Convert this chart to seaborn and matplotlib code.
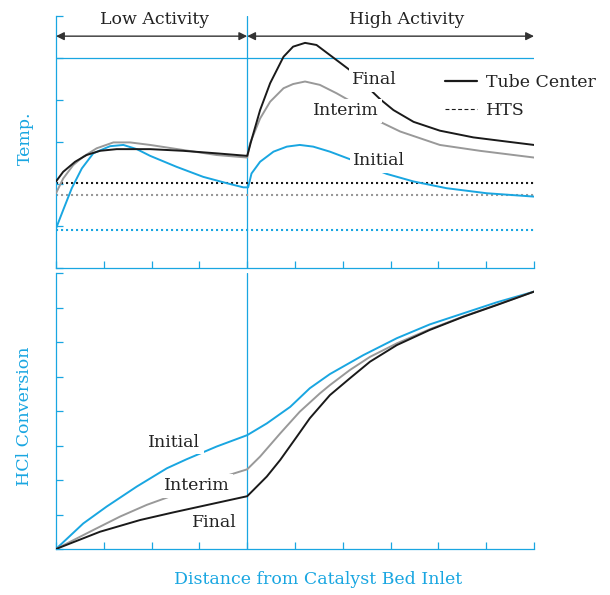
import numpy as np
import pandas as pd
import matplotlib
matplotlib.use("Agg")
import matplotlib.pyplot as plt
from matplotlib.lines import Line2D
import seaborn as sns

# ---------------- data ----------------
# Top panel: temperature (arbitrary units), x = distance (0..10)
temp_final_x = [0, 0.15, 0.4, 0.64, 0.92, 1.27, 1.97, 2.66, 3.36, 4.0,
                4.09, 4.27, 4.48, 4.76, 4.96, 5.21, 5.45, 5.73, 6.15,
                6.78, 7.06, 7.48, 8.03, 8.73, 9.43, 10]
temp_final_y = [2.06, 2.29, 2.53, 2.69, 2.79, 2.83, 2.83, 2.79, 2.73, 2.67,
                3.05, 3.76, 4.40, 5.03, 5.27, 5.36, 5.31, 5.07, 4.71,
                4.02, 3.76, 3.48, 3.27, 3.11, 3.01, 2.93]

temp_interim_x = [0, 0.15, 0.36, 0.57, 0.85, 1.2, 1.55, 1.97, 2.66, 3.36, 4.0,
                  4.06, 4.27, 4.48, 4.76, 4.96, 5.21, 5.52, 5.87, 6.15,
                  6.78, 7.2, 8.03, 8.87, 10]
temp_interim_y = [1.78, 2.13, 2.45, 2.65, 2.85, 2.99, 2.99, 2.93, 2.81, 2.69, 2.63,
                  2.97, 3.56, 3.96, 4.28, 4.38, 4.44, 4.36, 4.16, 3.98,
                  3.48, 3.25, 2.93, 2.79, 2.63]

temp_initial_x = [0, 0.15, 0.33, 0.54, 0.78, 1.13, 1.41, 1.69, 1.97, 2.52, 3.08, 3.57, 3.92, 4.02,
                  4.09, 4.27, 4.55, 4.83, 5.1, 5.38, 5.73, 6.15,
                  6.92, 7.48, 8.17, 9.01, 10]
temp_initial_y = [0.94, 1.38, 1.9, 2.37, 2.73, 2.9, 2.93, 2.83, 2.67, 2.41, 2.17, 2.02, 1.92, 1.92,
                  2.25, 2.53, 2.77, 2.89, 2.93, 2.89, 2.77, 2.59,
                  2.24, 2.06, 1.90, 1.78, 1.70]

# HTS levels (dotted)
hts_final = 2.03
hts_interim = 1.75
hts_initial = 0.9
temp_ref_level = 5.0

# Bottom panel: HCl conversion
conv_initial_x = [0, 0.57, 1.06, 1.69, 2.32, 2.73, 3.36, 4.0, 4.41, 4.9, 5.31, 5.73,
                  6.43, 7.13, 7.82, 8.52, 9.22, 10]
conv_initial_y = [0, 0.74, 1.23, 1.81, 2.34, 2.6, 2.97, 3.3, 3.64, 4.12, 4.66, 5.07,
                  5.62, 6.11, 6.51, 6.83, 7.15, 7.46]

conv_interim_x = [0, 0.78, 1.34, 1.9, 2.32, 3.4, 4.0, 4.27, 4.69, 5.1, 5.52, 5.73,
                  6.15, 6.57, 7.13, 7.82, 8.52, 9.22, 10]
conv_interim_y = [0, 0.55, 0.94, 1.28, 1.49, 2.05, 2.31, 2.68, 3.35, 3.98, 4.51, 4.75,
                  5.19, 5.57, 5.96, 6.37, 6.74, 7.08, 7.46]

conv_final_x = [0, 0.92, 1.76, 2.45, 3.01, 4.0, 4.13, 4.41, 4.69, 5.04, 5.31, 5.73,
                6.15, 6.57, 7.13, 7.82, 8.52, 9.22, 10]
conv_final_y = [0, 0.5, 0.84, 1.06, 1.23, 1.53, 1.71, 2.1, 2.58, 3.26, 3.79, 4.46,
                4.95, 5.43, 5.91, 6.35, 6.73, 7.07, 7.46]

zone_boundary = 4.0
x_max = 10

# ---------------- style ----------------
sns.set_theme(style="white")
plt.rcParams["font.family"] = ["DejaVu Serif"]

CYAN = "#19a6e1"
GRAY = "#999999"
BLACK = "#1a1a1a"
TXT = "#222222"
FS = 12.5

fig = plt.figure(figsize=(6.1, 5.95), dpi=100)
W, H = 610, 595
L, R = 56, 534
ax1 = fig.add_axes([L / W, 1 - 268 / H, (R - L) / W, (268 - 16) / H])
ax2 = fig.add_axes([L / W, 1 - 549 / H, (R - L) / W, (549 - 273) / H])

LW = 1.4


def line(ax, x, y, color, **kw):
    df = pd.DataFrame({"x": x, "y": y})
    sns.lineplot(data=df, x="x", y="y", ax=ax, color=color, lw=LW,
                 estimator=None, sort=False, legend=False, zorder=3, **kw)


# top panel
ax1.axhline(temp_ref_level, color=CYAN, lw=0.9, zorder=1)
ax1.axhline(hts_final, color=BLACK, lw=1.5, ls=(0, (1, 1.4)), zorder=2)
ax1.axhline(hts_interim, color=GRAY, lw=1.5, ls=(0, (1, 1.4)), zorder=2)
ax1.axhline(hts_initial, color=CYAN, lw=1.5, ls=(0, (1, 1.4)), zorder=2)
line(ax1, temp_initial_x, temp_initial_y, CYAN)
line(ax1, temp_interim_x, temp_interim_y, GRAY)
line(ax1, temp_final_x, temp_final_y, BLACK)

# bottom panel
line(ax2, conv_initial_x, conv_initial_y, CYAN)
line(ax2, conv_interim_x, conv_interim_y, GRAY)
line(ax2, conv_final_x, conv_final_y, BLACK)


def style_axes(ax, ymax):
    ax.set_xlim(0, x_max)
    ax.set_ylim(0, ymax)
    ax.set_xticks(range(0, x_max + 1))
    ax.set_yticks(range(0, ymax + 1))
    ax.tick_params(direction="in", length=5, width=0.9, color=CYAN,
                   labelbottom=False, labelleft=False, bottom=True, left=True)
    for s in ["top", "right"]:
        ax.spines[s].set_visible(False)
    for s in ["left", "bottom"]:
        ax.spines[s].set_color(CYAN)
        ax.spines[s].set_linewidth(0.9)
    ax.axvline(zone_boundary, color=CYAN, lw=0.9, zorder=1)
    ax.set_xlabel("")
    ax.set_ylabel("")


style_axes(ax1, 6)
style_axes(ax2, 8)

box = dict(facecolor="white", edgecolor="none", pad=2.5)
for ax, (tx, ty, t) in [(ax1, (6.67, 4.48, "Final")), (ax1, (6.07, 3.74, "Interim")),
                        (ax1, (6.76, 2.55, "Initial")),
                        (ax2, (2.47, 3.1, "Initial")), (ax2, (2.95, 1.83, "Interim")),
                        (ax2, (3.32, 0.78, "Final"))]:
    ax.text(tx, ty, t, ha="center", va="center", fontsize=FS, color=TXT,
            bbox=box, zorder=5)

# zone arrows and titles
for x0, x1, lab, lx in [(0, zone_boundary, "Low Activity", 2.07),
                        (zone_boundary, x_max, "High Activity", 7.34)]:
    ax1.annotate("", xy=(x0, 5.52), xytext=(x1, 5.52),
                 arrowprops=dict(arrowstyle="<|-|>", color="#333333", lw=1.0,
                                 shrinkA=0, shrinkB=0, mutation_scale=12),
                 annotation_clip=False)
    ax1.text(lx, 5.92, lab, ha="center", va="center", fontsize=FS, color=TXT,
             clip_on=False)

# legend
handles = [Line2D([], [], color=BLACK, lw=1.6),
           Line2D([], [], color=BLACK, lw=0.8, ls=(0, (3.5, 2.2)))]
leg = ax1.legend(handles, ["Tube Center", "HTS"], loc="upper left",
                 bbox_to_anchor=(0.814, 0.77), frameon=False, fontsize=FS,
                 handlelength=1.85, handletextpad=0.5, borderpad=0,
                 borderaxespad=0, labelspacing=0.62)
for t in leg.get_texts():
    t.set_color(TXT)

# axis labels (figure-level text)
fig.text(25 / W, 1 - 138 / H, "Temp.", rotation=90, ha="center", va="center",
         color=CYAN, fontsize=FS)
fig.text(25 / W, 1 - 416 / H, "HCl Conversion", rotation=90, ha="center",
         va="center", color=CYAN, fontsize=FS)
fig.text(318 / W, 1 - 580 / H, "Distance from Catalyst Bed Inlet", ha="center",
         va="center", color=CYAN, fontsize=FS)

fig.savefig("out.png", dpi=100, facecolor="white")
